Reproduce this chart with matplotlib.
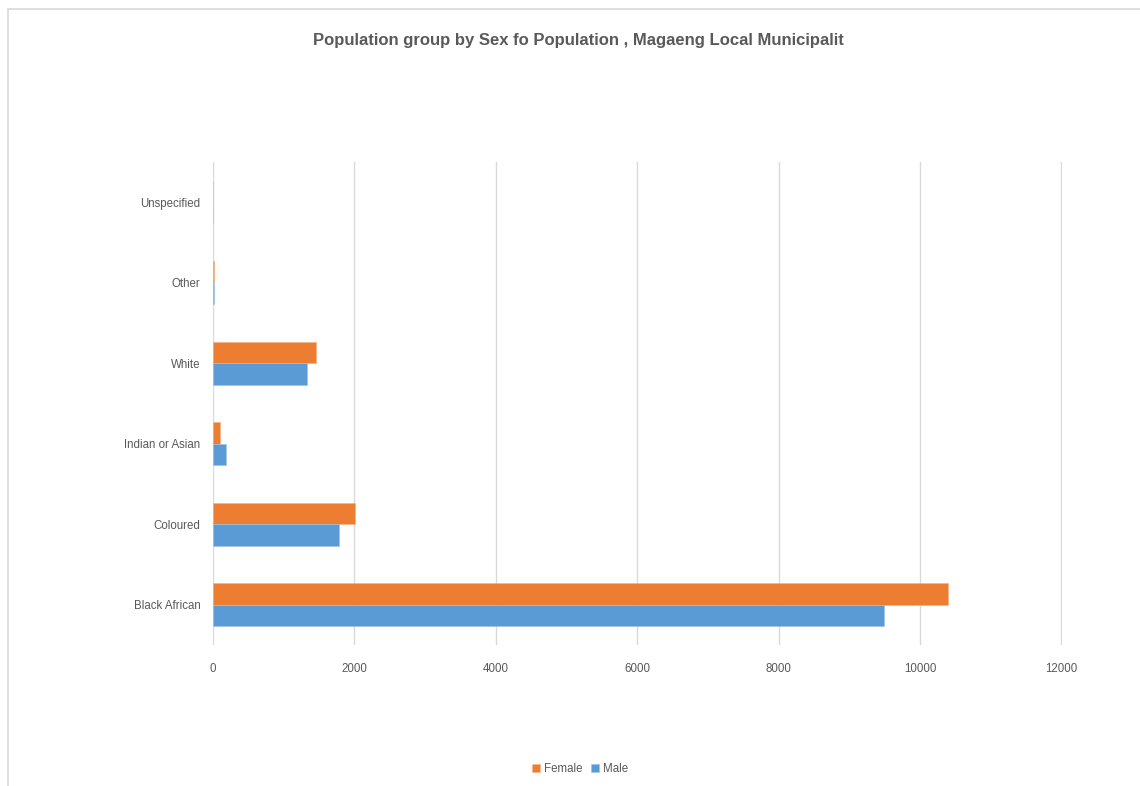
import matplotlib.pyplot as plt
from matplotlib.patches import Rectangle
import numpy as np

plt.rcParams['font.family'] = ['Liberation Sans', 'DejaVu Sans']

# population counts by group and sex
groups = ['Black African', 'Coloured', 'Indian or Asian', 'White', 'Other', 'Unspecified']
female = [10403, 2007, 105, 1451, 12, 6]
male = [9498, 1781, 184, 1324, 10, 2]

grey = '#595959'
fig = plt.figure(figsize=(11.4, 7.86), dpi=100)

# chart border, cut off on the right and bottom
fig.patches.append(Rectangle((8 / 1140, -0.1), 1.2, 1 - 9 / 786 + 0.1,
                             transform=fig.transFigure, fill=False,
                             edgecolor='#d9d9d9', linewidth=1.2))

ax = fig.add_axes([213 / 1140, 1 - 645 / 786, (1062 - 213) / 1140, (645 - 162) / 786])

y = np.arange(len(groups))
h = 0.27
ax.barh(y + h / 2, female, height=h, color='#ed7d31', edgecolor='#f4b183',
        linewidth=0.4, label='Female')
ax.barh(y - h / 2, male, height=h, color='#5b9bd5', edgecolor='#9dc3e6',
        linewidth=0.4, label='Male')

ax.set_xlim(0, 12010)
ax.set_ylim(-0.5, len(groups) - 0.5)
ax.set_xticks(range(0, 12001, 2000))
ax.set_yticks(y)
ax.set_yticklabels(groups)
ax.xaxis.grid(True, color='#d9d9d9', linewidth=1)
ax.set_axisbelow(True)
for s in ax.spines.values():
    s.set_visible(False)
ax.tick_params(length=0, labelsize=8.3, colors=grey)
ax.tick_params(axis='x', pad=13)
ax.tick_params(axis='y', pad=9)

fig.text(0.507, 1 - 40 / 786, 'Population group by Sex fo Population , Magaeng Local Municipalit',
         ha='center', va='center', fontsize=12, fontweight='bold', color=grey)

fig.legend(loc='center', bbox_to_anchor=(580 / 1140, 1 - 769 / 786), ncol=2,
           frameon=False, fontsize=8.3, labelcolor=grey, handlelength=0.7,
           handleheight=0.7, handletextpad=0.3, columnspacing=0.8)

fig.savefig('out.png')
